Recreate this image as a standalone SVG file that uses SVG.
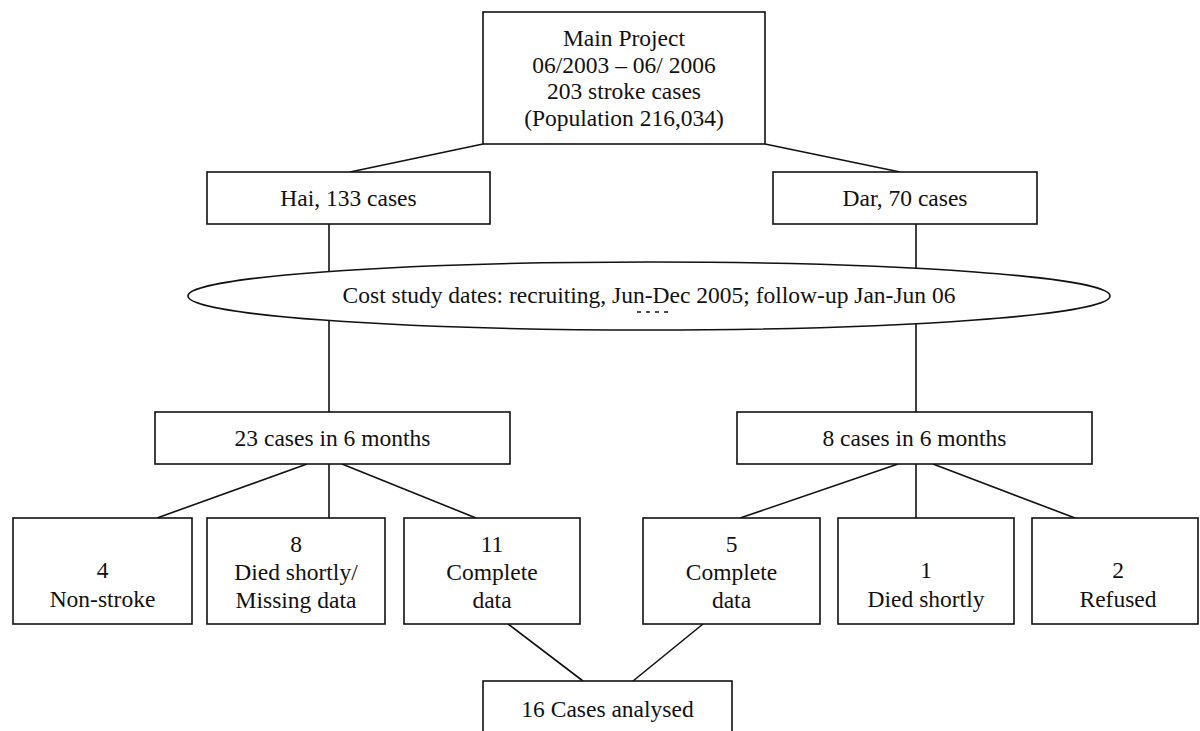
<svg xmlns="http://www.w3.org/2000/svg" width="1200" height="731" viewBox="0 0 1200 731">
<style>
.box{fill:#fff;stroke:#111;stroke-width:1.6}
.ln{stroke:#111;stroke-width:1.6;fill:none}
.t{font-family:'Liberation Serif','Times New Roman',serif;font-size:23.5px;text-anchor:middle;fill:#111}
</style>
<rect width="1200" height="731" fill="#fff"/>
<g id="connectors">
<line class="ln" x1="483" y1="144" x2="350" y2="172"/>
<line class="ln" x1="765" y1="144" x2="900" y2="172"/>
<line class="ln" x1="329" y1="224" x2="329" y2="412"/>
<line class="ln" x1="916" y1="224" x2="916" y2="412"/>
<line class="ln" x1="307" y1="464" x2="157" y2="518"/>
<line class="ln" x1="329" y1="464" x2="329" y2="518"/>
<line class="ln" x1="342" y1="464" x2="476" y2="518"/>
<line class="ln" x1="898" y1="464" x2="740" y2="518"/>
<line class="ln" x1="916" y1="464" x2="916" y2="518"/>
<line class="ln" x1="933" y1="464" x2="1075" y2="518"/>
<line class="ln" x1="508" y1="624" x2="583" y2="681"/>
<line class="ln" x1="703" y1="624" x2="633" y2="681"/>
</g>
<g id="main">
<rect class="box" x="483" y="12" width="282" height="132"/>
<text class="t" x="624" y="46">Main Project</text>
<text class="t" x="624" y="73">06/2003 – 06/ 2006</text>
<text class="t" x="624" y="99">203 stroke cases</text>
<text class="t" x="624" y="126">(Population 216,034)</text>
</g>
<g id="hai">
<rect class="box" x="207" y="172" width="283" height="52"/>
<text class="t" x="348.5" y="206">Hai, 133 cases</text>
</g>
<g id="dar">
<rect class="box" x="773" y="172" width="264" height="52"/>
<text class="t" x="905" y="206">Dar, 70 cases</text>
</g>
<g id="cost-study">
<ellipse class="box" cx="649" cy="296" rx="461" ry="34"/>
<text class="t" x="649" y="303">Cost study dates: recruiting, Jun-Dec 2005; follow-up Jan-Jun 06</text>
<line class="ln" x1="637" y1="312" x2="669" y2="312" stroke-width="1.2" stroke-dasharray="4 5"/>
</g>
<g id="hai-6m">
<rect class="box" x="155" y="412" width="355" height="52"/>
<text class="t" x="332.5" y="446">23 cases in 6 months</text>
</g>
<g id="dar-6m">
<rect class="box" x="737" y="412" width="355" height="52"/>
<text class="t" x="914.5" y="446">8 cases in 6 months</text>
</g>
<g id="hai-nonstroke">
<rect class="box" x="13" y="518" width="179" height="106"/>
<text class="t" x="102.5" y="578">4</text>
<text class="t" x="102.5" y="607">Non-stroke</text>
</g>
<g id="hai-died">
<rect class="box" x="207" y="518" width="178" height="106"/>
<text class="t" x="296" y="552">8</text>
<text class="t" x="296" y="580">Died shortly/</text>
<text class="t" x="296" y="608">Missing data</text>
</g>
<g id="hai-complete">
<rect class="box" x="404" y="518" width="176" height="106"/>
<text class="t" x="492" y="552">11</text>
<text class="t" x="492" y="580">Complete</text>
<text class="t" x="492" y="608">data</text>
</g>
<g id="dar-complete">
<rect class="box" x="643" y="518" width="177" height="106"/>
<text class="t" x="731.5" y="552">5</text>
<text class="t" x="731.5" y="580">Complete</text>
<text class="t" x="731.5" y="608">data</text>
</g>
<g id="dar-died">
<rect class="box" x="838" y="518" width="176" height="106"/>
<text class="t" x="926" y="578">1</text>
<text class="t" x="926" y="607">Died shortly</text>
</g>
<g id="dar-refused">
<rect class="box" x="1032" y="518" width="166" height="106"/>
<text class="t" x="1118" y="578">2</text>
<text class="t" x="1118" y="607">Refused</text>
</g>
<g id="analysed">
<rect class="box" x="483" y="681" width="249" height="60"/>
<text class="t" x="607.5" y="717">16 Cases analysed</text>
</g>
</svg>
